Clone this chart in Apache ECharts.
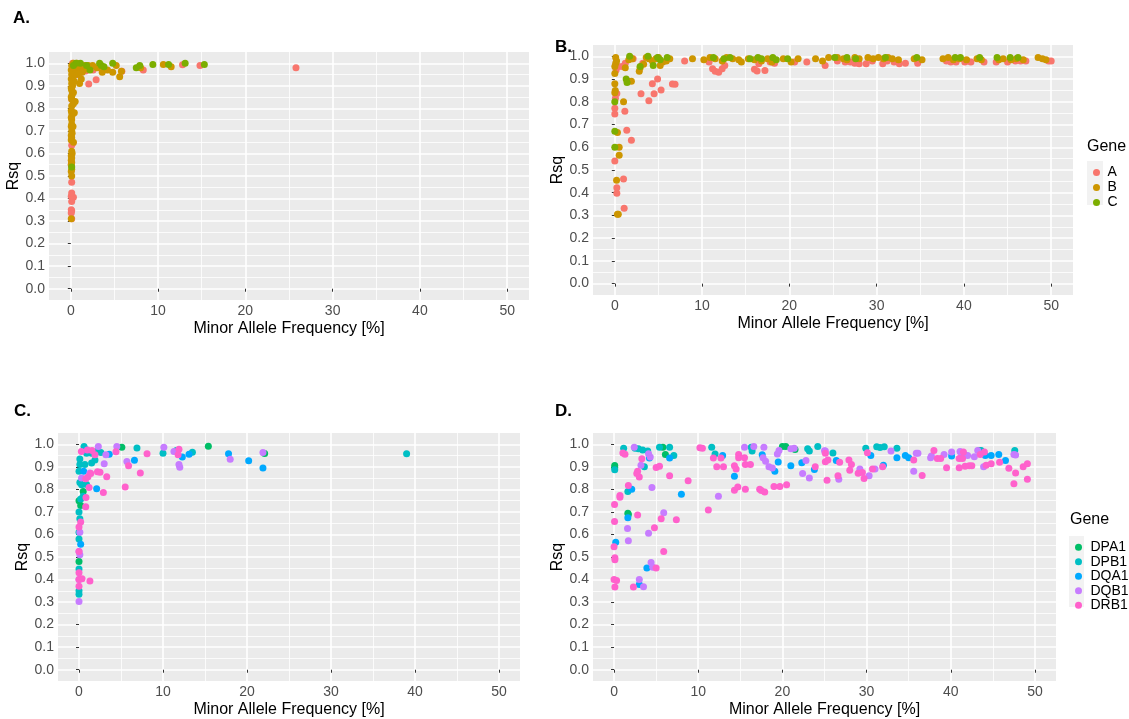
<!DOCTYPE html>
<html>

<head>
    <meta charset="utf-8">
    <title>Rsq vs MAF (ECharts)</title>
    <script src="https://cdn.jsdelivr.net/npm/echarts@6/dist/echarts.min.js"></script>
    <style>
        html,
        body {
            margin: 0;
            padding: 0;
            height: 100%;
            overflow: hidden;
            background: #ffffff;
        }

        #main {
            width: 1129px;
            height: 719px;
        }
    </style>
</head>

<body>
    <div id="main"></div>

    <script>
        // ---- data: [MAF %, Rsq] ----
        const panelNames = ['A.', 'B.', 'C.', 'D.'];
        const genesTop = ['A', 'B', 'C'];
        const genesBottom = ['DPA1', 'DPB1', 'DQA1', 'DQB1', 'DRB1'];
        const xTicks = [0, 10, 20, 30, 40, 50];
        const yTicks = [0, 0.1, 0.2, 0.3, 0.4, 0.5, 0.6, 0.7, 0.8, 0.9, 1.0];

        const aGeneA = [[0.1,0.31],[0.05,0.336],[0.1,0.346],[0.05,0.35],[0.1,0.387],[0.3,0.406],[0.05,0.41],[0.1,0.425],[0.1,0.472],[0.05,0.55],[0.1,0.636],[0.25,0.647],[0.1,0.84],[0.3,0.92],[0.5,0.96],[0.8,0.95],[1.2,0.96],[1.7,0.966],[2.05,0.908],[2.55,0.97],[2.9,0.927],[3.2,0.98],[5.85,0.965],[8.3,0.97],[12.8,0.993],[14.8,0.99],[25.8,0.98],[0.6,0.99],[1.0,0.985],[0.2,1.0]];
        const aGeneB = [[0.05,0.31],[0.1,0.50],[0.05,0.52],[0.1,0.53],[0.05,0.55],[0.1,0.56],[0.05,0.57],[0.1,0.58],[0.05,0.59],[0.15,0.60],[0.1,0.61],[0.05,0.66],[0.1,0.67],[0.05,0.68],[0.15,0.69],[0.1,0.70],[0.05,0.72],[0.1,0.73],[0.1,0.75],[0.05,0.76],[0.15,0.77],[0.1,0.78],[0.05,0.79],[0.1,0.81],[0.3,0.82],[0.5,0.83],[0.1,0.84],[0.05,0.85],[0.15,0.86],[0.3,0.87],[0.1,0.88],[0.05,0.89],[0.2,0.90],[0.1,0.91],[0.4,0.92],[0.05,0.93],[0.2,0.94],[0.1,0.95],[0.6,0.95],[0.3,0.96],[0.05,0.97],[0.8,0.97],[0.2,0.98],[0.5,0.985],[0.1,0.99],[0.3,1.0],[0.7,1.0],[1.0,0.99],[1.2,0.93],[1.0,0.91],[1.5,0.97],[1.6,0.99],[2.0,0.99],[1.3,0.96],[2.5,0.99],[3.0,0.98],[3.6,0.96],[4.2,0.97],[4.8,0.96],[5.2,0.99],[5.6,0.94],[5.8,0.965],[8.0,0.98],[10.6,0.995],[11.5,0.985],[0.9,0.955],[0.4,0.78],[0.3,0.65],[0.25,0.72]];
        const aGeneC = [[0.1,0.54],[1.1,1.0],[1.8,0.99],[2.2,0.97],[3.3,1.0],[3.5,0.99],[3.8,0.985],[4.8,1.0],[7.5,0.98],[7.9,0.99],[9.4,0.995],[11.2,0.995],[13.1,1.0],[15.3,0.995],[0.6,1.0],[0.3,0.99]];

        const bGeneA = [[0,0.54],[0,0.746],[0,0.772],[0.07,0.816],[0.23,0.837],[0.23,0.422],[0.23,0.398],[1.0,0.46],[1.07,0.332],[1.15,0.759],[1.37,0.675],[1.9,0.631],[3.0,0.835],[3.9,0.805],[4.5,0.835],[4.3,0.88],[4.9,0.9],[5.3,0.852],[6.6,0.878],[6.9,0.877],[0.15,0.94],[0.4,0.955],[0.84,0.955],[3.2,0.97],[8.0,0.98],[11.2,0.946],[11.5,0.935],[11.9,0.93],[12.3,0.945],[12.6,0.96],[10.8,0.975],[16.0,0.943],[16.3,0.936],[17.2,0.938],[16.5,0.967],[17.8,0.975],[18.3,0.97],[20.6,0.975],[22.0,0.975],[24.1,0.96],[25.5,0.98],[26.4,0.975],[27.0,0.975],[27.5,0.97],[28.0,0.968],[28.8,0.968],[29.5,0.98],[30.7,0.967],[31.2,0.98],[32.0,0.975],[32.6,0.968],[33.3,0.97],[34.7,0.97],[38.0,0.98],[38.5,0.975],[39.1,0.975],[40.1,0.975],[40.4,0.98],[40.8,0.975],[42.3,0.975],[43.7,0.975],[45.0,0.975],[45.9,0.98],[46.5,0.98],[47.1,0.98],[49.7,0.98],[50.0,0.98],[1.2,0.97],[2.1,0.99]];
        const bGeneB = [[0,0.925],[0,0.88],[0.05,0.85],[0,0.84],[0.1,0.995],[0.2,0.98],[0.1,0.97],[0,0.955],[0.3,0.665],[0.5,0.6],[0.5,0.565],[0.2,0.455],[0.3,0.305],[0.4,0.305],[1.0,0.8],[1.5,0.89],[1.9,0.89],[1.2,0.95],[1.6,0.985],[2.0,0.99],[2.8,0.935],[2.9,0.95],[3.6,0.995],[3.9,0.99],[4.3,0.98],[4.7,0.99],[5.0,0.995],[5.5,0.975],[5.9,0.98],[6.3,0.99],[3.3,0.965],[5.2,0.96],[8.9,0.99],[10.2,0.985],[10.9,0.995],[11.5,0.99],[12.3,0.98],[12.8,0.995],[13.5,0.99],[14.2,0.985],[14.5,0.975],[15.3,0.99],[16.0,0.985],[16.8,0.98],[17.5,0.99],[18.0,0.975],[19.3,0.99],[20.2,0.975],[21.0,0.99],[23.0,0.99],[23.8,0.98],[24.5,0.995],[25.5,0.995],[26.2,0.99],[26.6,0.985],[27.5,0.995],[28.0,0.99],[29.0,0.995],[29.6,0.99],[30.2,0.995],[30.8,0.99],[31.3,0.995],[31.8,0.99],[32.5,0.985],[34.3,0.99],[35.2,0.985],[37.6,0.99],[38.2,0.995],[38.8,0.985],[39.5,0.99],[40.3,0.985],[41.5,0.99],[42.0,0.985],[44.0,0.985],[44.5,0.99],[45.4,0.985],[46.0,0.99],[46.8,0.985],[48.5,0.995],[49.0,0.99],[49.4,0.985]];
        const bGeneC = [[0,0.6],[0,0.67],[0,0.8],[1.3,0.9],[1.4,0.885],[1.7,1.0],[2.9,0.955],[4.4,0.96],[5.2,0.985],[6.0,0.995],[11.3,0.995],[12.5,0.99],[13.2,0.995],[15.5,0.99],[16.4,0.995],[16.8,0.99],[18.1,0.995],[18.5,0.985],[19.8,0.99],[25.2,0.995],[26.6,0.995],[27.6,0.99],[31.0,0.995],[34.6,0.995],[39.0,0.995],[39.6,0.995],[41.8,0.995],[43.8,0.995],[45.3,0.995],[46.2,0.995],[3.8,1.0],[4.9,0.995]];

        const cDPA1 = [[5.1,0.987],[15.4,0.991],[22.1,0.959],[0,0.75],[0.2,0.728],[0,0.48],[0.5,0.79]];
        const cDPB1 = [[0.6,0.99],[0.1,0.935],[0.1,0.91],[0,0.88],[0.1,0.83],[0.3,0.82],[0,0.7],[0.1,0.67],[0,0.61],[0,0.35],[0,0.335],[0,0.447],[0.9,0.96],[1.5,0.96],[2.1,0.968],[2.6,0.964],[1.5,0.917],[0.7,0.91],[6.9,0.983],[10.0,0.96],[11.6,0.972],[13.5,0.965],[0.5,0.77],[0.2,0.757],[0,0.58],[0.9,0.822],[1.9,0.93],[39.0,0.958]];
        const cDQA1 = [[0.55,0.88],[0.2,0.557],[2.1,0.803],[3.6,0.956],[6.6,0.929],[12.3,0.943],[13.1,0.956],[17.8,0.958],[20.2,0.927],[21.9,0.895],[0.9,0.975]];
        const cDQB1 = [[0,0.303],[0,0.524],[0.1,0.51],[0.3,0.85],[1.3,0.873],[2.3,0.99],[3.2,0.953],[3.0,0.914],[4.5,0.99],[5.7,0.924],[10.1,0.987],[11.3,0.968],[11.9,0.91],[12.0,0.898],[18.0,0.934],[21.9,0.964],[0.1,0.61],[0,0.4]];
        const cDRB1 = [[1.3,0.393],[0.36,0.403],[0,0.4],[0,0.37],[0,0.43],[0,0.633],[0.2,0.655],[0.83,0.764],[0.8,0.723],[1.2,0.808],[0.8,0.847],[1.07,0.856],[1.4,0.87],[2.2,0.878],[2.5,0.876],[3.3,0.856],[2.9,0.786],[4.4,0.967],[5.5,0.81],[5.9,0.905],[7.3,0.873],[8.1,0.958],[11.8,0.953],[11.9,0.978],[1.0,0.975],[1.55,0.972],[0.28,0.968],[1.9,0.953],[0,0.524]];

        const dDPA1 = [[0.08,0.906],[0.08,0.897],[1.64,0.694],[1.7,0.688],[5.8,0.987],[6.1,0.955],[20.0,0.99],[20.4,0.99],[21.5,0.977],[43.4,0.972]];
        const dDPB1 = [[1.14,0.982],[2.5,0.982],[2.9,0.98],[3.4,0.975],[4.0,0.97],[5.4,0.987],[6.6,0.987],[7.1,0.95],[0.08,0.887],[1.64,0.79],[3.6,0.9],[11.6,0.987],[12.0,0.957],[16.3,0.987],[16.4,0.97],[23.0,0.98],[24.2,0.99],[23.2,0.97],[26.0,0.961],[29.9,0.982],[31.2,0.989],[31.6,0.986],[32.1,0.989],[33.6,0.982],[43.6,0.972],[47.6,0.972]];
        const dDQA1 = [[0.2,0.565],[1.64,0.674],[2.1,0.8],[4.2,0.939],[6.6,0.939],[8.0,0.778],[12.9,0.95],[14.3,0.858],[17.6,0.953],[19.5,0.921],[19.1,0.88],[21.0,0.905],[22.3,0.918],[23.8,0.888],[3.0,0.378],[3.9,0.451],[26.4,0.928],[30.5,0.95],[32.0,0.907],[33.6,0.94],[34.6,0.95],[35.0,0.94],[40.1,0.948],[41.6,0.955],[44.1,0.95],[44.8,0.95],[45.7,0.955],[46.5,0.928]];
        const dDQB1 = [[2.4,0.987],[4.1,0.958],[4.3,0.943],[3.2,0.907],[4.5,0.808],[5.9,0.696],[1.6,0.626],[1.7,0.572],[4.1,0.605],[12.4,0.769],[15.5,0.987],[16.6,0.99],[17.8,0.987],[19.6,0.972],[21.0,0.98],[21.4,0.982],[17.7,0.94],[18.0,0.925],[18.4,0.9],[18.8,0.895],[19.4,0.957],[22.4,0.87],[23.2,0.85],[22.8,0.928],[25.1,0.97],[3.0,0.4],[3.5,0.368],[4.4,0.476],[4.6,0.455],[25.0,0.971],[29.2,0.89],[30.3,0.86],[31.0,0.89],[32.9,0.97],[35.9,0.96],[36.1,0.96],[35.6,0.88],[37.6,0.94],[37.7,0.948],[39.2,0.955],[40.1,0.966],[41.1,0.968],[41.3,0.955],[42.0,0.95],[42.8,0.945],[43.2,0.972],[43.9,0.9],[47.5,0.955],[47.7,0.952],[26.7,0.845]];
        const dDRB1 = [[1.05,0.961],[1.3,0.956],[3.3,0.936],[2.8,0.88],[2.7,0.87],[3.0,0.855],[5.0,0.897],[5.4,0.903],[6.6,0.86],[8.8,0.838],[1.7,0.817],[0.7,0.773],[0.7,0.765],[0.06,0.733],[0.06,0.657],[2.8,0.686],[5.6,0.67],[7.4,0.665],[4.8,0.63],[11.2,0.708],[10.2,0.985],[10.5,0.982],[11.8,0.939],[12.7,0.939],[12.2,0.9],[13.0,0.9],[14.3,0.905],[14.5,0.89],[14.8,0.94],[14.8,0.955],[15.5,0.94],[15.6,0.91],[16.2,0.91],[14.3,0.796],[14.7,0.81],[15.6,0.8],[17.3,0.8],[17.5,0.795],[17.9,0.788],[19.0,0.813],[19.7,0.813],[20.5,0.82],[23.9,0.9],[25.1,0.922],[0.1,0.488],[0.1,0.497],[0,0.4],[0.3,0.396],[0.1,0.367],[2.3,0.367],[5.0,0.451],[5.9,0.524],[0,0.545],[25.1,0.96],[25.4,0.93],[25.3,0.84],[26.8,0.92],[26.6,0.86],[27.9,0.93],[28.2,0.91],[28.0,0.885],[29.0,0.872],[29.5,0.875],[29.7,0.848],[30.1,0.962],[30.7,0.89],[31.9,0.9],[36.6,0.862],[35.6,0.93],[38.0,0.972],[38.4,0.937],[38.8,0.937],[39.5,0.896],[41.0,0.896],[41.0,0.937],[41.4,0.937],[41.5,0.966],[41.7,0.903],[42.2,0.905],[42.5,0.905],[43.5,0.955],[44.0,0.966],[44.2,0.907],[44.8,0.914],[45.8,0.92],[47.5,0.825],[46.9,0.894],[47.7,0.873],[48.6,0.9],[49.1,0.914],[49.1,0.845]];

        const geneColors = {
            A: '#F8766D', B: '#CD9600', C: '#7CAE00',
            DPA1: '#00BE67', DPB1: '#00BFC4', DQA1: '#00A9FF', DQB1: '#C77CFF', DRB1: '#FF61CC'
        };

        const panelData = [
            { A: aGeneA, B: aGeneB, C: aGeneC },
            { A: bGeneA, B: bGeneB, C: bGeneC },
            { DPA1: cDPA1, DPB1: cDPB1, DQA1: cDQA1, DQB1: cDQB1, DRB1: cDRB1 },
            { DPA1: dDPA1, DPB1: dDPB1, DQA1: dDQA1, DQB1: dDQB1, DRB1: dDRB1 }
        ];

        // ---- layout ----
        const FONT = 'Liberation Sans, Arial, sans-serif';
        const NONE = 'rgba(0,0,0,0)';
        const grids = [
            { left: 49, top: 52, width: 480, height: 248 },
            { left: 593, top: 45, width: 480, height: 250 },
            { left: 58, top: 433, width: 462, height: 250 },
            { left: 593, top: 433, width: 463, height: 250 }
        ];

        const xAxes = [], yAxes = [], series = [];
        grids.forEach((g, i) => {
            // main axis: labels, ticks, title
            xAxes.push({
                type: 'value', gridIndex: i, position: 'bottom', min: -2.5, max: 52.5,
                name: 'Minor Allele Frequency [%]', nameLocation: 'middle', nameGap: 21,
                nameTextStyle: { fontSize: 16, color: '#000', fontFamily: FONT },
                axisLine: { show: false },
                axisTick: { show: true, length: 3, customValues: xTicks, lineStyle: { color: '#333' } },
                axisLabel: { customValues: xTicks, fontSize: 14, color: '#4d4d4d', margin: 4, fontFamily: FONT },
                splitLine: { show: false }
            });
            // major / minor grid lines
            [[['#ffffff', NONE, NONE, NONE], 1.6], [[NONE, NONE, '#ffffff', NONE], 0.8]].forEach(([cols, w]) => {
                xAxes.push({
                    type: 'value', gridIndex: i, position: 'bottom', min: -2.5, max: 52.5, interval: 2.5,
                    axisLine: { show: false }, axisTick: { show: false }, axisLabel: { show: false },
                    splitLine: { show: true, showMinLine: false, showMaxLine: false, lineStyle: { color: cols, width: w } }
                });
            });

            yAxes.push({
                type: 'value', gridIndex: i, position: 'left', min: -0.05, max: 1.05,
                name: 'Rsq', nameLocation: 'middle', nameGap: 26,
                nameTextStyle: { fontSize: 16, color: '#000', fontFamily: FONT },
                axisLine: { show: false },
                axisTick: { show: true, length: 3, customValues: yTicks, lineStyle: { color: '#333' } },
                axisLabel: { customValues: yTicks, fontSize: 14, color: '#4d4d4d', margin: 4, fontFamily: FONT, formatter: v => v.toFixed(1) },
                splitLine: { show: false }
            });
            [[['#ffffff', NONE], 1.6], [[NONE, '#ffffff'], 0.8]].forEach(([cols, w]) => {
                yAxes.push({
                    type: 'value', gridIndex: i, position: 'left', min: -0.05, max: 1.05, interval: 0.05,
                    axisLine: { show: false }, axisTick: { show: false }, axisLabel: { show: false },
                    splitLine: { show: true, showMinLine: false, showMaxLine: false, lineStyle: { color: cols, width: w } }
                });
            });

            Object.keys(panelData[i]).forEach(gene => {
                series.push({
                    name: gene,
                    type: 'scatter',
                    xAxisIndex: i * 3,
                    yAxisIndex: i * 3,
                    symbolSize: 7,
                    itemStyle: { color: geneColors[gene], opacity: 1 },
                    data: panelData[i][gene]
                });
            });
        });

        const letterPos = [[13, 18], [555, 47], [14, 411], [555, 411]];

        const chart = echarts.init(document.getElementById('main'));
        chart.setOption({
            animation: false,
            backgroundColor: '#ffffff',
            textStyle: { fontFamily: FONT },
            grid: grids.map(g => Object.assign({ show: true, backgroundColor: '#ebebeb', borderWidth: 0 }, g)),
            xAxis: xAxes,
            yAxis: yAxes,
            legend: [
                {
                    data: genesTop, orient: 'vertical', left: 1088, top: 160,
                    icon: 'circle', itemWidth: 12, itemHeight: 7, itemGap: 0,
                    textStyle: { fontSize: 14, color: '#000', lineHeight: 15, fontFamily: FONT }
                },
                {
                    data: genesBottom, orient: 'vertical', left: 1070, top: 535,
                    icon: 'circle', itemWidth: 14, itemHeight: 7, itemGap: 0,
                    textStyle: { fontSize: 14, color: '#000', lineHeight: 14.5, fontFamily: FONT }
                }
            ],
            graphic: [
                { type: 'rect', left: 1087, top: 161, shape: { width: 16, height: 44 }, style: { fill: '#f2f2f2' }, z: -1 },
                { type: 'rect', left: 1069, top: 536, shape: { width: 15, height: 71 }, style: { fill: '#f2f2f2' }, z: -1 },
                { type: 'text', left: 1087, top: 139, style: { text: 'Gene', fontSize: 16, fill: '#000', fontFamily: FONT } },
                { type: 'text', left: 1070, top: 512, style: { text: 'Gene', fontSize: 16, fill: '#000', fontFamily: FONT } }
            ].concat(panelNames.map((t, i) => ({
                type: 'text', left: letterPos[i][0], top: letterPos[i][1] - 8,
                style: { text: t, fontSize: 17, fontWeight: 'bold', fill: '#000', fontFamily: FONT }
            }))),
            series: series
        });
    </script>

</body>

</html>
